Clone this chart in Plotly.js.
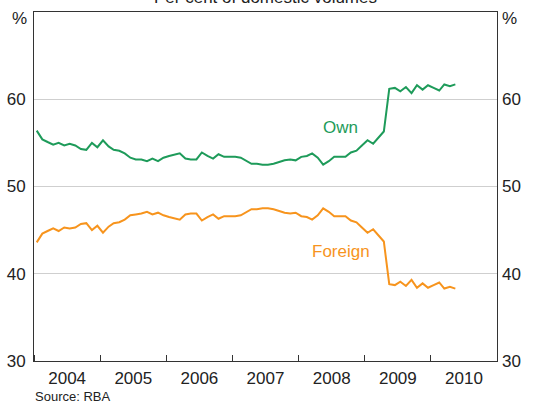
<!DOCTYPE html>
<html>
<head>
<meta charset="utf-8">
<script src="https://cdn.plot.ly/plotly-3.0.1.min.js"></script>
<style>
html,body{margin:0;padding:0;background:#fff;}
#chart{width:536px;height:409px;}
</style>
</head>
<body>
<div id="chart"></div>
<script>
// Monthly observations, Jan 2004 - May 2010 (per cent of domestic volumes)
var startYear = 2004;
var ownShare = [
  56.4, 55.4, 55.1, 54.8, 55.0, 54.7, 54.9, 54.7, 54.3, 54.2, 55.0, 54.5,
  55.3, 54.6, 54.2, 54.1, 53.8, 53.3, 53.1, 53.1, 52.9, 53.2, 52.9, 53.3,
  53.5, 53.7, 53.8, 53.2, 53.1, 53.1, 53.9, 53.5, 53.2, 53.7, 53.4, 53.4,
  53.4, 53.3, 53.0, 52.6, 52.6, 52.5, 52.5, 52.6, 52.8, 53.0, 53.1, 53.0,
  53.4, 53.5, 53.8, 53.3, 52.5, 52.9, 53.4, 53.4, 53.4, 53.9, 54.1, 54.7,
  55.3, 54.9, 55.6, 56.3, 61.2, 61.3, 60.9, 61.4, 60.7, 61.6, 61.1, 61.6,
  61.3, 61.0, 61.7, 61.5, 61.7
];
var foreignShare = [
  43.6, 44.6, 44.9, 45.2, 44.9, 45.3, 45.2, 45.3, 45.7, 45.8, 45.0, 45.5,
  44.7, 45.4, 45.8, 45.9, 46.2, 46.7, 46.8, 46.9, 47.1, 46.8, 47.0, 46.7,
  46.5, 46.3, 46.2, 46.8, 46.9, 46.9, 46.1, 46.5, 46.8, 46.3, 46.6, 46.6,
  46.6, 46.7, 47.0, 47.4, 47.4, 47.5, 47.5, 47.4, 47.2, 47.0, 46.9, 47.0,
  46.6, 46.5, 46.2, 46.7, 47.5, 47.1, 46.6, 46.6, 46.6, 46.1, 45.9, 45.3,
  44.7, 45.1, 44.4, 43.7, 38.8, 38.7, 39.1, 38.6, 39.3, 38.4, 38.9, 38.4,
  38.7, 39.0, 38.3, 38.5, 38.3
];
var yTickVals = [30, 40, 50, 60];
var yTickText = ['30', '40', '50', '60'];
var seriesNames = ['Own', 'Foreign'];

function monthDate(i) {
  var y = startYear + Math.floor(i / 12);
  var m = (i % 12) + 1;
  return y + '-' + (m < 10 ? '0' + m : m) + '-16';
}
var dates = ownShare.map(function (_, i) { return monthDate(i); });

var green = '#1e9b5a';
var orange = '#f7941d';
var font = 'Liberation Sans, Arial, sans-serif';

var traces = [
  {x: dates, y: ownShare, name: seriesNames[0], type: 'scatter', mode: 'lines',
   line: {color: green, width: 2}, hoverinfo: 'skip'},
  {x: dates, y: foreignShare, name: seriesNames[1], type: 'scatter', mode: 'lines',
   line: {color: orange, width: 2}, hoverinfo: 'skip'},
  {x: dates, y: ownShare, yaxis: 'y2', type: 'scatter', mode: 'lines',
   line: {color: 'rgba(0,0,0,0)', width: 0}, hoverinfo: 'skip', showlegend: false}
];

var layout = {
  width: 536, height: 409,
  margin: {l: 34, r: 39, t: 12, b: 48, pad: 0},
  paper_bgcolor: '#fff', plot_bgcolor: '#fff',
  showlegend: false,
  font: {family: font, size: 17, color: '#222'},
  xaxis: {
    type: 'date',
    range: ['2004-01-01', '2011-01-01'],
    tick0: '2004-01-01', dtick: 'M12',
    ticklabelmode: 'period',
    tickformat: '%Y',
    ticks: 'inside', ticklen: 6, tickcolor: '#333', tickwidth: 1,
    showgrid: false, zeroline: false,
    showline: true, linecolor: '#333', linewidth: 1, mirror: true,
    tickfont: {size: 17, color: '#222'}, ticklabelstandoff: 2
  },
  yaxis: {
    range: [30, 70], tickvals: yTickVals, ticktext: yTickText,
    ticks: '', showgrid: true, gridcolor: '#cfcfcf', gridwidth: 1,
    zeroline: false, showline: true, linecolor: '#333', linewidth: 1, mirror: true,
    tickfont: {size: 17, color: '#222'}, ticklabelstandoff: 4
  },
  yaxis2: {
    range: [30, 70], tickvals: yTickVals, ticktext: yTickText,
    overlaying: 'y', side: 'right', ticks: '', showgrid: false,
    zeroline: false, showline: false,
    tickfont: {size: 17, color: '#222'}, ticklabelstandoff: 4
  },
  annotations: [
    {text: 'Per cent of domestic volumes', xref: 'paper', yref: 'paper',
     x: 0.5, y: 1.008, xanchor: 'center', yanchor: 'bottom', showarrow: false,
     font: {size: 17, color: '#222'}},
    {text: '%', xref: 'paper', yref: 'paper', x: -0.031, y: 0.982,
     xanchor: 'center', yanchor: 'middle', showarrow: false, font: {size: 17, color: '#222'}},
    {text: '%', xref: 'paper', yref: 'paper', x: 1.026, y: 0.982,
     xanchor: 'center', yanchor: 'middle', showarrow: false, font: {size: 17, color: '#222'}},
    {text: seriesNames[0], x: '2008-08-20', y: 56.8, xref: 'x', yref: 'y',
     showarrow: false, font: {size: 17, color: green}},
    {text: seriesNames[1], x: '2008-08-20', y: 42.6, xref: 'x', yref: 'y',
     showarrow: false, font: {size: 17, color: orange}},
    {text: 'Source: RBA', xref: 'paper', yref: 'paper', x: -0.003, y: -0.074,
     xanchor: 'left', yanchor: 'top', showarrow: false, font: {size: 13, color: '#222'}}
  ]
};

Plotly.newPlot('chart', traces, layout, {staticPlot: true, displayModeBar: false});
</script>
</body>
</html>
